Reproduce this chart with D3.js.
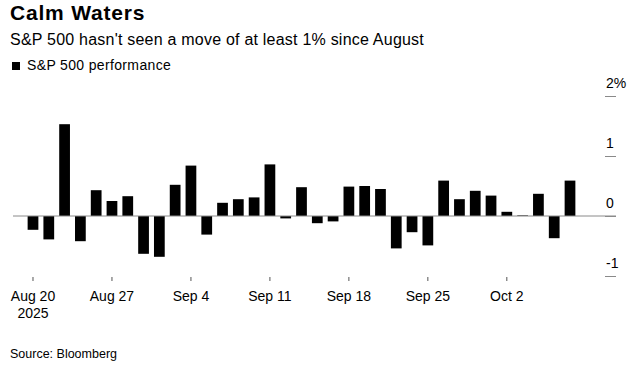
<!DOCTYPE html>
<html>
<head>
<meta charset="utf-8">
<script src="https://cdn.jsdelivr.net/npm/d3@7"></script>
<style>
  html, body { margin: 0; padding: 0; background: #fff; }
  svg { display: block; font-family: "Liberation Sans", Arial, sans-serif; }
</style>
</head>
<body>
<svg id="chart" width="642" height="365"></svg>
<script>
const dates = ["2025-08-20","2025-08-21","2025-08-22","2025-08-25","2025-08-26","2025-08-27","2025-08-28","2025-08-29",
  "2025-09-02","2025-09-03","2025-09-04","2025-09-05","2025-09-08","2025-09-09","2025-09-10","2025-09-11","2025-09-12",
  "2025-09-15","2025-09-16","2025-09-17","2025-09-18","2025-09-19","2025-09-22","2025-09-23","2025-09-24","2025-09-25",
  "2025-09-26","2025-09-29","2025-09-30","2025-10-01","2025-10-02","2025-10-03","2025-10-06","2025-10-07","2025-10-08"];
const performance = [-0.23,-0.39,1.53,-0.42,0.43,0.25,0.33,-0.63,
  -0.68,0.52,0.84,-0.31,0.22,0.28,0.31,0.86,-0.04,
  0.48,-0.12,-0.09,0.49,0.50,0.45,-0.54,-0.27,-0.49,
  0.59,0.28,0.42,0.34,0.07,0.01,0.37,-0.37,0.59];
const xTickDates = ["2025-08-20","2025-08-27","2025-09-04","2025-09-11","2025-09-18","2025-09-25","2025-10-02"];
const xTickLabels = [["Aug 20","2025"],["Aug 27"],["Sep 4"],["Sep 11"],["Sep 18"],["Sep 25"],["Oct 2"]];
const yTicks = [-1, 0, 1, 2];
const yTickLabels = ["-1", "0", "1", "2%"];

const svg = d3.select("#chart");

svg.append("text").attr("x", 10).attr("y", 20)
  .attr("font-size", 21).attr("font-weight", "bold").attr("letter-spacing", 0.8).attr("fill", "#000").text("Calm Waters");
svg.append("text").attr("x", 10).attr("y", 45)
  .attr("font-size", 16).attr("letter-spacing", 0.22).attr("fill", "#000").text("S&P 500 hasn't seen a move of at least 1% since August");
svg.append("rect").attr("x", 12).attr("y", 62).attr("width", 8).attr("height", 8).attr("fill", "#000");
svg.append("text").attr("x", 27).attr("y", 70)
  .attr("font-size", 14).attr("letter-spacing", 0.35).attr("fill", "#000").text("S&P 500 performance");
svg.append("text").attr("x", 10).attr("y", 357.5)
  .attr("font-size", 12.5).attr("fill", "#000").text("Source: Bloomberg");

const x = d3.scaleBand().domain(dates).range([25.1, 577.9]).paddingInner(0.32).paddingOuter(0.16);
const y = d3.scaleLinear().domain([-1, 2]).range([276, 96]);

// bars
svg.append("g").selectAll("rect").data(dates).join("rect")
  .attr("x", d => x(d))
  .attr("width", x.bandwidth())
  .attr("y", (d, i) => y(Math.max(0, performance[i])))
  .attr("height", (d, i) => Math.abs(y(performance[i]) - y(0)))
  .attr("fill", "#000");

// zero line
svg.append("line").attr("x1", 13).attr("x2", 616).attr("y1", y(0)).attr("y2", y(0))
  .attr("stroke", "#8a8a8a").attr("stroke-width", 1);

// y axis (right side, short tick marks with labels above)
const yAxis = d3.axisRight(y).tickValues(yTicks).tickSize(0).tickFormat("");
const yg = svg.append("g").call(yAxis);
yg.select(".domain").remove();
yg.selectAll(".tick").each(function(d, i) {
  const t = d3.select(this);
  t.append("line").attr("x1", 605).attr("x2", 616).attr("y1", 0).attr("y2", 0)
    .attr("stroke", "#8a8a8a").attr("stroke-width", 1);
  t.append("text").attr("x", 606).attr("y", -8.5).attr("font-size", 14).attr("fill", "#000")
    .attr("text-anchor", "start").text(yTickLabels[i]);
});

// x axis
const xAxis = d3.axisBottom(x).tickValues(xTickDates).tickSize(0).tickFormat("");
const xg = svg.append("g").attr("transform", "translate(0,276)").call(xAxis);
xg.select(".domain").remove();
xg.selectAll(".tick").each(function(d, i) {
  const t = d3.select(this);
  t.append("line").attr("y1", 1).attr("y2", 5).attr("stroke", "#555").attr("stroke-width", 1);
  const txt = t.append("text").attr("font-size", 14).attr("fill", "#000").attr("text-anchor", "middle");
  xTickLabels[i].forEach((s, j) => {
    txt.append("tspan").attr("x", 0).attr("y", 25 + j * 17).text(s);
  });
});
</script>
</body>
</html>
